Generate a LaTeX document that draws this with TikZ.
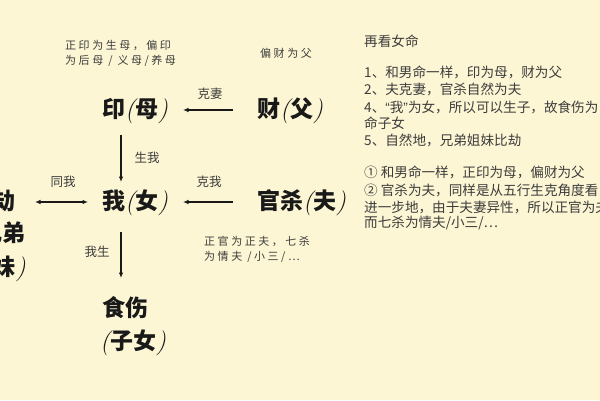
\documentclass[tikz,border=0pt]{standalone}
\usepackage{fontspec}
\newfontfamily\cjk{Noto Sans CJK SC}
\newfontfamily\cjkls{Noto Sans CJK SC}[LetterSpace=23]
\newfontfamily\latq{Liberation Sans}
\usetikzlibrary{arrows.meta}
\definecolor{bgc}{RGB}{252,246,212}
\definecolor{ink}{RGB}{25,25,25}
\definecolor{txt}{RGB}{60,60,60}
\newcommand\mylp{{\normalfont\itshape\fontsize{25}{25}\selectfont(}}
\newcommand\myrp{{\normalfont\itshape\fontsize{25}{25}\selectfont)\kern1pt}}
\begin{document}
\begin{tikzpicture}[x=1pt,y=-1pt,
  big/.style={inner sep=0pt,anchor=west,font=\cjk\bfseries\fontsize{23}{25}\selectfont,text height=18pt,text depth=4pt,text=ink},
  lbl/.style={inner sep=0pt,font=\cjk\fontsize{12.5}{15}\selectfont,text=txt},
  note/.style={inner sep=0pt,anchor=west,font=\cjkls\fontsize{11}{12}\selectfont,text=txt},
  para/.style={inner sep=0pt,anchor=west,font=\cjk\fontsize{13.6}{16}\selectfont,text=txt},
  conn/.style={line width=1.3pt,draw=ink,-{Latex[length=5.5pt,width=4.5pt]}},
  dconn/.style={line width=1.3pt,draw=ink,{Latex[length=5.5pt,width=4.5pt]}-{Latex[length=5.5pt,width=4.5pt]}},
]
\useasboundingbox (0,0) rectangle (600,400);
\fill[bgc] (0,0) rectangle (600,400);
\clip (0,0) rectangle (600,400);

% main nodes
\node[big] (yin) at (102,110) {印\mylp 母\myrp};
\node[big] (cai) at (257,110) {财\mylp 父\myrp};
\node[big] (wo)  at (102,202) {我\mylp 女\myrp};
\node[big] (gs)  at (257,202) {官杀\mylp 夫\myrp};
\node[big] (ss1) at (102,309) {食伤};
\node[big] (ss2) at (100,342) {\mylp 子女\myrp};
\node[big,anchor=east] (bj1) at (16,202) {比劫};
\node[big,anchor=east] (bj2) at (26,234) {\mylp 兄弟};
\node[big,anchor=east] (bj3) at (27,268) {姐妹\myrp};

% connectors
\draw[conn] ([shift={(-24,0)}]cai.west) -- ([shift={(81,0)}]yin.west);
\draw[conn] ([shift={(-24,0)}]gs.west) -- ([shift={(81,0)}]wo.west);
\draw[conn] ([shift={(19,25)}]yin.west) -- ([shift={(19,-20)}]wo.west);
\draw[conn] ([shift={(19,30)}]wo.west) -- ([shift={(19,-31)}]ss1.west);
\draw[dconn] ([shift={(19,0)}]bj1.east) -- ([shift={(-14,0)}]wo.west);

% connector labels
\node[lbl] (l1) at (210,94) {克妻};
\node[lbl] (l2) at (147,158) {生我};
\node[lbl] (l3) at (63,182) {同我};
\node[lbl] (l4) at (209,182) {克我};
\node[lbl] (l5) at (97,252) {我生};

% annotations
\node[note] (n1) at (65,45) {正印为生母，偏印};
\node[note] (n2) at (65,61) {为后母 / 义母/养母};
\node[note] (n3) at (260,53) {偏财为父};
\node[note] (n4) at (204,241) {正官为正夫，七杀};
\node[note] (n5) at (204,257) {为情夫 /小三/…};

% right-hand text
\node[para] (r0) at (364,41) {再看女命};
\node[para] (r1) at (364,72) {1、和男命一样，印为母，财为父};
\node[para] (r2) at (364,89) {2、夫克妻，官杀自然为夫};
\node[para] (r3) at (364,107) {4、{\latq “}我{\latq ”}为女，所以可以生子，故食伤为};
\node[para] (r4) at (364,123) {命子女};
\node[para] (r5) at (364,140) {5、自然地，兄弟姐妹比劫};
\node[para] (r6) at (364,172) {① 和男命一样，正印为母，偏财为父};
\node[para] (r7) at (364,190) {② 官杀为夫，同样是从五行生克角度看};
\node[para] (r8) at (364,207) {进一步地，由于夫妻异性，所以正官为夫};
\node[para] (r9) at (364,223) {而七杀为情夫/小三/…};
\end{tikzpicture}
\end{document}
